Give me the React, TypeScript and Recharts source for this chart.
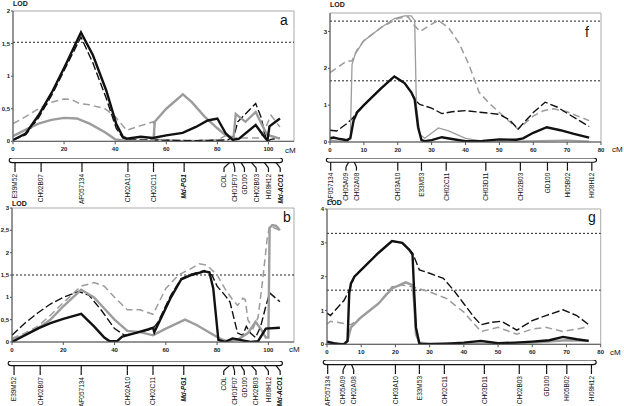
import React from 'react';
import { LineChart, Line, XAxis, YAxis, ReferenceLine, ReferenceArea } from 'recharts';

type Pt = [number, number];

// ---- panel a : LOD profiles along the Md-PG1 linkage group ----
const aBlackSolid: Pt[] = [[0, 0.02], [5, 0.12], [10, 0.4], [15.6, 0.78], [20.8, 1.19], [26.6, 1.67], [31.3, 1.32], [36.5, 0.78], [40.4, 0.27], [43, 0.07], [44.5, 0.04], [50, 0.07], [54.7, 0.05], [60, 0.09], [66.4, 0.13], [71.6, 0.22], [76.2, 0.32], [80, 0.35], [83.3, 0.12], [86, 0.02], [88.5, 0.04], [95, 0.25], [98, 0.09], [99.6, 0.01], [100.4, 0.23], [104.5, 0.35]];
const aBlackDash: Pt[] = [[0, 0.02], [5, 0.1], [10, 0.36], [15.6, 0.74], [20.8, 1.15], [26.6, 1.6], [31.3, 1.2], [36.5, 0.66], [40.4, 0.2], [43, 0.05], [45, 0.02], [55, 0.02], [70, 0.01], [84, 0.02], [86.5, 0.08], [88, 0.3], [91, 0.42], [95, 0.58], [97, 0.38], [99.3, 0], [101, 0.03], [104.5, 0.05]];
const aGraySolid: Pt[] = [[0, 0.08], [5, 0.18], [10, 0.27], [15, 0.33], [20, 0.36], [25, 0.35], [30, 0.27], [36, 0.14], [40, 0.03], [45, 0], [53, 0], [55, 0.02], [55.5, 0.3], [60, 0.5], [66.5, 0.72], [70, 0.6], [75, 0.38], [80, 0.2], [83, 0.1], [86.3, 0.04], [87.2, 0.42], [89, 0.36], [91, 0.3], [95, 0.45], [97.5, 0.25], [99.5, 0.1], [102, 0.07], [104.5, 0.04]];
const aGrayDash: Pt[] = [[0, 0.27], [5, 0.38], [10, 0.5], [15, 0.6], [20, 0.65], [23, 0.64], [26, 0.58], [30, 0.56], [36, 0.5], [40, 0.38], [44.5, 0.17], [50, 0.24], [55, 0.3], [55.6, 0.03], [65, 0.01], [80, 0.02], [84, 0.1], [87, 0.05], [92, 0.05], [97, 0.05], [99, 0.22], [101, 0.4], [104.5, 0.22]];

// ---- panel b ----
const bBlackSolid: Pt[] = [[0, 0], [5, 0.15], [10, 0.3], [15, 0.42], [20, 0.52], [27, 0.63], [32, 0.35], [36, 0.1], [38, 0.02], [41, 0.02], [43, 0.12], [48, 0.2], [53, 0.28], [55, 0.32], [55.5, 0.22], [57, 0.4], [62, 1.0], [66, 1.4], [70, 1.5], [75, 1.58], [77, 1.56], [78.5, 1.2], [80.5, 0.05], [83, 0], [86, 0.08], [88, 0.06], [93, 0], [96, 0.02], [99, 0.3], [104.5, 0.32]];
const bBlackDash: Pt[] = [[0, 0.15], [5, 0.42], [10, 0.65], [15, 0.85], [20, 1.0], [26, 1.13], [30, 1.05], [35, 0.7], [40, 0.3], [44, 0.15], [48, 0.2], [53, 0.27], [55, 0.3], [57, 0.45], [62, 1.05], [66, 1.42], [70, 1.52], [75, 1.6], [78, 1.5], [80, 1.25], [83, 1.05], [85, 0.9], [86.5, 0.55], [88, 0.2], [90, 0.15], [91.4, 0.35], [93, 0.2], [95, 0.1], [97, 0.35], [99, 0.8], [100.5, 1.1], [104.5, 0.9]];
const bGraySolid: Pt[] = [[0, 0.05], [5, 0.15], [10, 0.3], [15, 0.5], [20, 0.8], [27, 1.17], [32, 1.0], [36, 0.75], [40, 0.5], [45, 0.25], [50, 0.22], [55, 0.15], [60, 0.3], [67.5, 0.5], [72, 0.38], [78, 0.18], [82, 0.05], [84, 0.02], [88, 0.05], [92, 0.2], [95, 0.45], [97, 0.3], [99, 0.1], [100, 0.1], [100.5, 2.55], [101.5, 2.62], [103, 2.6], [104.5, 2.5]];
const bGrayDash: Pt[] = [[0, 0.08], [5, 0.2], [10, 0.35], [15, 0.6], [20, 0.88], [27, 1.25], [32, 1.33], [36, 1.25], [40, 1.0], [45, 0.72], [50, 0.72], [55, 0.62], [57, 0.85], [60, 1.2], [65, 1.5], [70, 1.65], [73, 1.75], [76, 1.72], [80, 1.5], [83, 1.2], [86, 0.95], [88, 0.82], [90, 0.98], [91, 0.95], [92, 0.5], [94, 0.3], [96, 0.55], [98, 1.5], [99.5, 2.3], [100.5, 2.6], [104.5, 2.5]];

// ---- panel f ----
const fBlackSolid: Pt[] = [[0, 0.1], [1, 0.12], [3, 0.08], [5, 0.05], [6, 0.1], [7, 0.6], [8, 0.8], [10, 1.0], [15, 1.45], [19, 1.78], [22, 1.6], [24, 1.35], [25, 1.15], [26, 0.4], [27, 0.05], [28, 0.02], [30, 0.05], [33, 0.13], [36, 0.08], [40, 0.02], [45, 0.03], [50, 0.07], [55, 0.06], [57, 0.1], [60, 0.25], [64, 0.4], [68, 0.32], [72, 0.22], [76.5, 0.12]];
const fBlackDash: Pt[] = [[0, 0.32], [2, 0.3], [5, 0.5], [7, 0.68], [8, 0.82], [10, 1.0], [15, 1.45], [19, 1.78], [22, 1.6], [24, 1.35], [25.5, 1.1], [26.5, 1.02], [30, 0.92], [33, 0.77], [36, 0.82], [40, 0.85], [45, 0.8], [50, 0.75], [53, 0.6], [55.5, 0.35], [60, 0.8], [63.5, 1.08], [67, 0.95], [70, 0.78], [76.5, 0.42]];
const fGraySolid: Pt[] = [[0, 0.05], [2, 0.03], [5, 0], [6, 0.1], [6.5, 2.1], [7.5, 2.4], [10, 2.75], [15, 3.1], [19, 3.35], [22, 3.42], [24, 3.42], [25, 3.3], [25.5, 1.0], [26.5, 0.2], [28, 0.1], [32, 0.38], [35, 0.3], [40, 0.1], [45, 0.02], [55, 0.02], [70, 0.05], [76.5, 0.02]];
const fGrayDash: Pt[] = [[0, 1.88], [5, 2.2], [6.5, 2.2], [8, 2.5], [10, 2.75], [15, 3.1], [20, 3.35], [23, 3.4], [25, 3.15], [26.6, 3.0], [30, 3.2], [32, 3.3], [35, 3.1], [38, 2.7], [41, 2.1], [44, 1.35], [47, 1.05], [50, 0.8], [55.5, 0.35], [60, 0.7], [63, 0.85], [66, 0.9], [70, 0.82], [76.5, 0.58]];

// ---- panel g ----
const gBlackSolid: Pt[] = [[0, 0.08], [2, 0.03], [4, 0], [5, 0], [6, 0.1], [6.5, 1.5], [7, 1.8], [8, 2.0], [10, 2.2], [15, 2.7], [19, 3.05], [22, 3.0], [24, 2.8], [25, 2.65], [25.5, 1.5], [26, 0.5], [27, 0.02], [28, 0], [30, 0], [35, 0.02], [40, 0.05], [45, 0.1], [50, 0.03], [55, 0.05], [60, 0.08], [65, 0.12], [69, 0.22], [73, 0.15], [76.5, 0.1]];
const gBlackDash: Pt[] = [[0, 0.92], [1, 0.85], [5, 1.3], [6.5, 1.6], [8, 2.0], [10, 2.2], [15, 2.7], [19, 3.05], [22, 3.0], [25, 2.7], [27, 2.2], [30, 2.1], [34, 1.95], [37, 1.6], [40, 1.2], [43, 0.8], [45, 0.58], [48, 0.65], [51, 0.68], [55.5, 0.42], [60, 0.7], [64, 0.85], [69, 1.02], [73, 0.85], [76.5, 0.58]];
const gGraySolid: Pt[] = [[0, 0.05], [3, 0], [5, 0.02], [6, 0.1], [7, 0.5], [10, 0.8], [15, 1.2], [19, 1.65], [23, 1.83], [25, 1.75], [25.5, 1.2], [26, 0.3], [27, 0.05], [30, 0.02], [40, 0.02], [50, 0.02], [60, 0.05], [70, 0.12], [76.5, 0.1]];
const gGrayDash: Pt[] = [[0, 0.6], [1, 0.68], [3, 0.65], [7, 0.58], [10, 0.8], [15, 1.2], [19, 1.7], [22, 1.75], [25, 1.7], [30, 1.55], [35, 1.35], [40, 0.95], [45, 0.38], [50, 0.5], [55.5, 0.3], [60, 0.45], [64, 0.5], [69, 0.38], [73, 0.45], [76.5, 0.52]];

// ---- linkage maps ----
const pgNames = ['E39M52', 'CH02B07', 'AF057134', 'CH02A10', 'CH02C11', 'Md-PG1', 'COL', 'CH01F07', 'GD100', 'CH02B03', 'Hi08H12', 'Md-ACO1'];
const pgPos = [0.8, 11, 27, 45, 55, 67, 84.8, 86.2, 89.3, 93.4, 98.4, 103];
const pgLabelPos = [0.8, 11, 27, 45, 55, 67, 82.6, 86.8, 90.6, 95.2, 100, 104.6];
const pgBar: [number, number] = [-1.5, 105.5];

const lgNames = ['AF057134', 'CH05A09', 'CH02A08', 'CH03A10', 'E33M53', 'CH02C11', 'CH03D11', 'CH02B03', 'GD100', 'Hi05B02', 'Hi08H12'];
const lgPos = [0.2, 5.5, 7.2, 20, 27, 34.3, 46, 56.2, 64.2, 70.1, 77.3];
const lgLabelPos = [0.2, 4.7, 7.8, 20, 27, 34.3, 46, 56.2, 64.2, 70.1, 77.3];
const lgBar: [number, number] = [-1.1, 78.7];

const boldMarkers = ['Md-PG1', 'Md-ACO1'];

const xTicksPG = [0, 20, 40, 60, 80, 100];
const xTicksLG = [0, 10, 20, 30, 40, 50, 60, 70, 80];
const yTicksA = [0, 0.5, 1, 1.5, 2];
const yTicksB = [0, 0.5, 1, 1.5, 2, 2.5, 3];
const yTicksF = [0, 1, 2, 3];
const yTicksG = [0, 1, 2, 3, 4];
const thrA = [1.52];
const thrB = [1.5];
const thrF = [3.28, 1.66];
const thrG = [3.28, 1.6];

const FONT = '"Liberation Sans", Arial, sans-serif';
const YW = 13;
const PAD = 4;
const XH = 12;
const BLACK = '#111';
const GRAY = '#9c9c9c';

const rows = (pts: Pt[]) => pts.map(([cm, lod]) => ({ cm, lod }));
const comma = (v: number) => String(v).replace('.', ',');

interface MapDef {
  names: string[];
  pos: number[];
  labelPos: number[];
  bar: [number, number];
  barTop: number;
  tickEnd: number;
}

interface PanelDef {
  x0: number; x1: number; y0: number; y1: number;
  xMax: number; xTicks: number[];
  yMax: number; yTicks: number[];
  thresholds: number[];
  blackSolid: Pt[]; blackDash: Pt[]; graySolid: Pt[]; grayDash: Pt[];
  grayWidth: number;
  map: MapDef;
}

const MainPlot: React.FC<{ p: PanelDef }> = ({ p }) => {
  const w = p.x1 - p.x0 + YW + PAD;
  const h = p.y1 - p.y0 + PAD + XH;
  const tickStyle = { fontSize: 6, fill: '#222', fontFamily: FONT, fontWeight: 700 };
  return (
    <div style={{ position: 'absolute', left: p.x0 - YW, top: p.y0 - PAD }}>
      <LineChart width={w} height={h} margin={{ top: PAD, right: PAD, left: 0, bottom: 0 }}>
        <ReferenceArea x1={0} x2={p.xMax} y1={0} y2={p.yMax} fill="none" stroke="#aaa" strokeWidth={1} />
        <XAxis type="number" dataKey="cm" domain={[0, p.xMax]} allowDataOverflow ticks={p.xTicks} interval={0}
          height={XH} tickSize={3} tickMargin={2.5} tick={tickStyle} stroke="#555" />
        <YAxis type="number" domain={[0, p.yMax]} allowDataOverflow ticks={p.yTicks} interval={0}
          width={YW} tickSize={2} tickMargin={1} tick={tickStyle} tickFormatter={comma} stroke="#555" />
        {p.thresholds.map((t) => (
          <ReferenceLine key={t} y={t} stroke="#222" strokeWidth={1} strokeDasharray="2 2" />
        ))}
        <Line data={rows(p.grayDash)} dataKey="lod" type="linear" dot={false} stroke={GRAY} strokeWidth={1.5}
          strokeDasharray="7 4" isAnimationActive={false} />
        <Line data={rows(p.blackDash)} dataKey="lod" type="linear" dot={false} stroke={BLACK} strokeWidth={1.4}
          strokeDasharray="8 3" isAnimationActive={false} />
        <Line data={rows(p.graySolid)} dataKey="lod" type="linear" dot={false} stroke={GRAY} strokeWidth={p.grayWidth}
          isAnimationActive={false} />
        <Line data={rows(p.blackSolid)} dataKey="lod" type="linear" dot={false} stroke={BLACK} strokeWidth={2.4}
          isAnimationActive={false} />
      </LineChart>
    </div>
  );
};

const MapPlot: React.FC<{ p: PanelDef }> = ({ p }) => {
  const m = p.map;
  const w = p.x1 - p.x0 + YW + PAD;
  const plotH = m.tickEnd - m.barTop;
  const labelH = 34;
  const markerRows = m.pos.map((cm) => ({ cm }));
  const MarkerTick = (props: any) => {
    const { x, y, payload } = props;
    const i = m.labelPos.indexOf(payload.value);
    const name = m.names[i];
    const bold = boldMarkers.includes(name);
    return (
      <text x={x} y={y} dy="0.36em" transform={`rotate(-90, ${x}, ${y})`} textAnchor="end"
        fontSize={6.5} fontFamily={FONT} fill="#111" fontWeight={bold ? 700 : 400}
        fontStyle={bold ? 'italic' : 'normal'}>
        {name}
      </text>
    );
  };
  return (
    <div style={{ position: 'absolute', left: p.x0 - YW, top: m.barTop }}>
      <LineChart width={w} height={plotH + labelH} data={markerRows}
        margin={{ top: 0, right: PAD, left: YW, bottom: 0 }}>
        <XAxis type="number" dataKey="cm" domain={[0, p.xMax]} allowDataOverflow ticks={m.labelPos} interval={0}
          height={labelH} axisLine={false} tickLine={false} tickSize={0} tickMargin={2} tick={MarkerTick} />
        <YAxis type="number" domain={[0, 3]} allowDataOverflow hide />
        {m.pos.map((cm, i) => (
          <ReferenceLine key={'d' + i} ifOverflow="visible" stroke="#111" strokeWidth={1.2}
            segment={[{ x: cm, y: 2 }, { x: m.labelPos[i], y: 0.9 }]} />
        ))}
        {m.labelPos.map((cm, i) => (
          <ReferenceLine key={'v' + i} ifOverflow="visible" stroke="#111" strokeWidth={1.2}
            segment={[{ x: cm, y: 0.9 }, { x: cm, y: 0 }]} />
        ))}
        <ReferenceArea x1={m.bar[0]} x2={m.bar[1]} y1={2} y2={3} ifOverflow="visible"
          shape={(s: any) => (
            <rect x={s.x} y={s.y} width={s.width} height={s.height} rx={3} ry={3}
              fill="#fff" stroke="#111" strokeWidth={1.1} />
          )} />
      </LineChart>
    </div>
  );
};

const panelA: PanelDef = {
  x0: 13, x1: 294, y0: 10.7, y1: 141, xMax: 110, xTicks: xTicksPG, yMax: 2, yTicks: yTicksA,
  thresholds: thrA, blackSolid: aBlackSolid, blackDash: aBlackDash, graySolid: aGraySolid, grayDash: aGrayDash,
  grayWidth: 2.4,
  map: { names: pgNames, pos: pgPos, labelPos: pgLabelPos, bar: pgBar, barTop: 158, tickEnd: 172 },
};
const panelB: PanelDef = {
  x0: 12.3, x1: 294.3, y0: 208.3, y1: 342.3, xMax: 110, xTicks: xTicksPG, yMax: 3, yTicks: yTicksB,
  thresholds: thrB, blackSolid: bBlackSolid, blackDash: bBlackDash, graySolid: bGraySolid, grayDash: bGrayDash,
  grayWidth: 2.4,
  map: { names: pgNames, pos: pgPos, labelPos: pgLabelPos, bar: pgBar, barTop: 361, tickEnd: 375 },
};
const panelF: PanelDef = {
  x0: 330, x1: 601, y0: 12.7, y1: 141.7, xMax: 80, xTicks: xTicksLG, yMax: 3.5, yTicks: yTicksF,
  thresholds: thrF, blackSolid: fBlackSolid, blackDash: fBlackDash, graySolid: fGraySolid, grayDash: fGrayDash,
  grayWidth: 1.3,
  map: { names: lgNames, pos: lgPos, labelPos: lgLabelPos, bar: lgBar, barTop: 158.3, tickEnd: 171 },
};
const panelG: PanelDef = {
  x0: 327.3, x1: 601, y0: 209, y1: 344.3, xMax: 80, xTicks: xTicksLG, yMax: 4, yTicks: yTicksG,
  thresholds: thrG, blackSolid: gBlackSolid, blackDash: gBlackDash, graySolid: gGraySolid, grayDash: gGrayDash,
  grayWidth: 2.4,
  map: { names: lgNames, pos: lgPos, labelPos: lgLabelPos, bar: lgBar, barTop: 360, tickEnd: 374 },
};

const panels = [panelA, panelB, panelF, panelG];

const texts: { t: string; x: number; y: number; size: number; bold?: boolean }[] = [
  { t: 'LOD', x: 13, y: 0, size: 7, bold: true },
  { t: 'LOD', x: 330, y: 1, size: 7, bold: true },
  { t: 'LOD', x: 12, y: 199.5, size: 7, bold: true },
  { t: 'LOD', x: 327, y: 198.5, size: 7, bold: true },
  { t: 'cM', x: 285, y: 147, size: 8 },
  { t: 'cM', x: 612, y: 145.5, size: 8 },
  { t: 'cM', x: 289, y: 346, size: 8 },
  { t: 'cM', x: 610, y: 349, size: 8 },
  { t: 'a', x: 280, y: 13, size: 14 },
  { t: 'f', x: 585, y: 25, size: 14 },
  { t: 'b', x: 283, y: 210, size: 14 },
  { t: 'g', x: 588, y: 210, size: 14 },
];

export default function App() {
  return (
    <div style={{ position: 'absolute', left: 0, top: 0, width: 624, height: 406, background: '#fff', overflow: 'hidden', fontFamily: FONT }}>
      {panels.map((p, i) => (
        <React.Fragment key={i}>
          <MainPlot p={p} />
          <MapPlot p={p} />
        </React.Fragment>
      ))}
      {texts.map((d, i) => (
        <div key={i} style={{ position: 'absolute', left: d.x, top: d.y, fontSize: d.size, lineHeight: 1,
          fontWeight: d.bold ? 700 : 400, color: '#111', whiteSpace: 'nowrap' }}>{d.t}</div>
      ))}
    </div>
  );
}
